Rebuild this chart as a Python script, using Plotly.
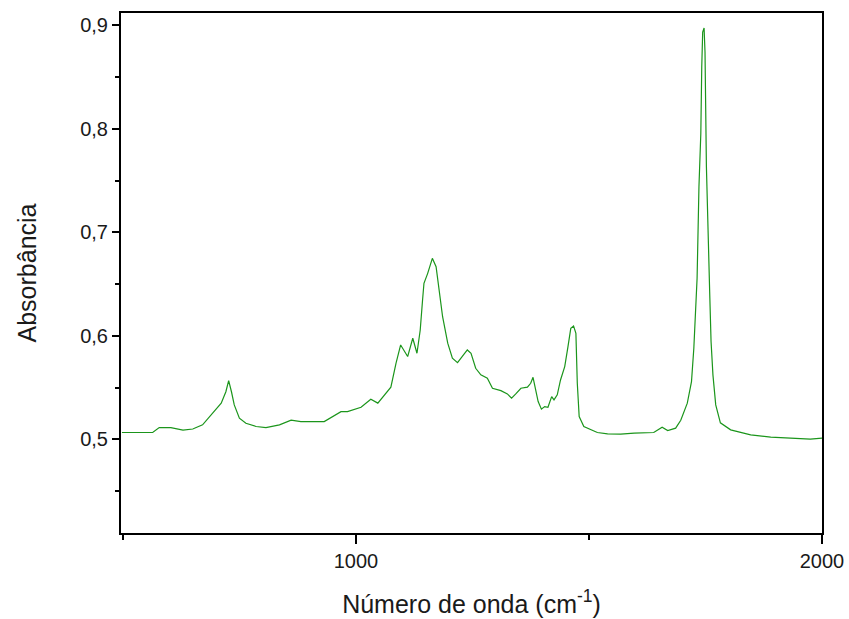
import plotly.graph_objects as go

# Wavenumber (cm^-1) and absorbance
wavenumber = [498, 564, 578, 603, 629, 650, 671, 693, 711, 721, 727, 733, 739, 750, 764, 786, 807,
              836, 861, 882, 932, 968, 982, 1011, 1032, 1047, 1061, 1075, 1086, 1096, 1111, 1122,
              1131, 1138, 1143, 1146, 1154, 1164, 1172, 1179, 1186, 1197, 1207, 1218, 1229, 1239,
              1247, 1257, 1268, 1282, 1293, 1311, 1325, 1334, 1343, 1354, 1368, 1375, 1380, 1386,
              1391, 1398, 1405, 1412, 1420, 1425, 1432, 1439, 1448, 1455, 1461, 1467, 1472, 1475,
              1479, 1489, 1504, 1518, 1540, 1568, 1597, 1625, 1639, 1657, 1669, 1686, 1697, 1711,
              1720, 1725, 1729, 1732, 1736, 1740, 1742, 1744, 1747, 1749, 1752, 1755, 1759, 1762,
              1766, 1772, 1782, 1804, 1847, 1890, 1932, 1975, 2000]
absorbance = [0.5066, 0.5066, 0.5114, 0.5114, 0.509, 0.510, 0.514, 0.5253, 0.535, 0.546, 0.5568,
              0.546, 0.5333, 0.5205, 0.5156, 0.5124, 0.5114, 0.514, 0.5185, 0.5172, 0.5172, 0.5268,
              0.5268, 0.531, 0.5388, 0.535, 0.543, 0.5504, 0.5735, 0.5912, 0.580, 0.5977, 0.5832,
              0.6057, 0.6347, 0.6508, 0.6604, 0.6749, 0.6668, 0.6443, 0.6185, 0.5929, 0.5784,
              0.5741, 0.580, 0.5864, 0.5832, 0.5687, 0.5623, 0.5591, 0.5494, 0.5471, 0.5439,
              0.5398, 0.5439, 0.5494, 0.5504, 0.5542, 0.560, 0.5478, 0.5365, 0.5292, 0.5317,
              0.531, 0.5413, 0.5381, 0.543, 0.5574, 0.5703, 0.5896, 0.6073, 0.6096, 0.6025,
              0.5542, 0.522, 0.5124, 0.5092, 0.5066, 0.5053, 0.505, 0.506, 0.506, 0.5066, 0.5118,
              0.5085, 0.5108, 0.5185, 0.535, 0.5558, 0.588, 0.6202, 0.6556, 0.744, 0.7956, 0.8598,
              0.8936, 0.8975, 0.8743, 0.7633, 0.7022, 0.6427, 0.5944, 0.5623, 0.5333, 0.516,
              0.5092, 0.5043, 0.5021, 0.5012, 0.5002, 0.5012]

x_title = "Número de onda (cm<sup>-1</sup>)"
y_title = "Absorbância"

FONT = "Arial, Liberation Sans, sans-serif"

fig = go.Figure(go.Scatter(
    x=wavenumber, y=absorbance, mode="lines",
    line=dict(color="#1b951b", width=1.2),
    showlegend=False, hoverinfo="skip",
))

axis_common = dict(
    showline=True, linecolor="black", linewidth=2, mirror=True,
    ticks="outside", tickcolor="black", tickwidth=2,
    showgrid=False, zeroline=False, automargin=False,
    tickfont=dict(family=FONT, size=20, color="#1a1a1a"),
)

fig.update_layout(
    width=849, height=619,
    margin=dict(l=121, r=27, t=13, b=86),
    paper_bgcolor="white", plot_bgcolor="white",
    separators=",.",
    font=dict(family=FONT, color="#1a1a1a"),
    xaxis=dict(
        range=[496, 2000], tick0=0, dtick=1000, ticklen=9,
        minor=dict(ticks="outside", dtick=500, tick0=0, ticklen=5, tickwidth=2, tickcolor="black"),
        title=dict(text=x_title, font=dict(family=FONT, size=25, color="#1a1a1a"), standoff=24),
        **axis_common,
    ),
    yaxis=dict(
        range=[0.4095, 0.912], tick0=0, dtick=0.1, ticklen=7, tickformat=".1f",
        minor=dict(ticks="outside", dtick=0.05, tick0=0, ticklen=4, tickwidth=2, tickcolor="black"),
        title=dict(text=y_title, font=dict(family=FONT, size=25, color="#1a1a1a"), standoff=36),
        **axis_common,
    ),
)

fig.write_html("out.html")
